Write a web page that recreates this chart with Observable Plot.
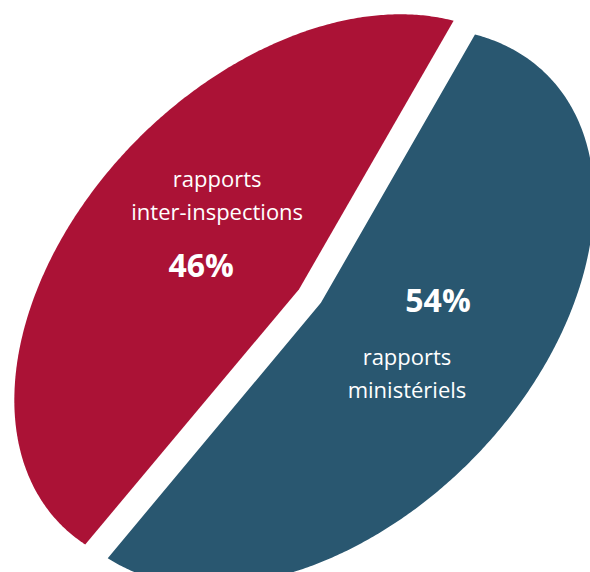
<!DOCTYPE html>
<html>
<head>
<meta charset="utf-8">
<script src="https://cdn.jsdelivr.net/npm/d3@7"></script>
<script src="https://cdn.jsdelivr.net/npm/@observablehq/plot@0.6"></script>
<style>
  html, body { margin: 0; padding: 0; background: #fff; }
  #chart svg { display: block; }
</style>
</head>
<body>
<div id="chart"></div>
<script>
// ---- data ----
const categories = ["rapports inter-inspections", "rapports ministériels"];
const shares = [46, 54];
const percentLabels = ["46%", "54%"];
const nameLabels = ["rapports\ninter-inspections", "rapports\nministériels"];
const colors = ["#ab1236", "#295770"];

// ---- layout (tilted / exploded pie) ----
const W = 590, H = 572;
const ellipse = {cx: 304, cy: 299.5, a: 328, b: 219, angle: -45};
const pivot = [309.5, 295.5];   // where the pie centre appears
const startDeg = -22;
const explode = 0.058;
const explodeTilt = 6;          // degrees
const labelRadius = 0.39;

const rad = Math.PI / 180;
const e1 = [Math.cos(ellipse.angle * rad), Math.sin(ellipse.angle * rad)];
const e2 = [-e1[1], e1[0]];
const pv = [pivot[0] - ellipse.cx, pivot[1] - ellipse.cy];
const qx = (pv[0] * e1[0] + pv[1] * e1[1]) / ellipse.a;
const qy = (pv[0] * e2[0] + pv[1] * e2[1]) / ellipse.b;
const r = Math.hypot(qx, qy);
const psi = Math.atan2(qy, qx);

function M(x, y) {
  const c = Math.cos(psi), s = Math.sin(psi);
  const x1 = c * x + s * y, y1 = -s * x + c * y;
  const den = 1 + r * x1;
  const kx = (x1 + r) / den, ky = y1 * Math.sqrt(1 - r * r) / den;
  const x2 = c * kx - s * ky, y2 = s * kx + c * ky;
  return [
    ellipse.cx + ellipse.a * x2 * e1[0] + ellipse.b * y2 * e2[0],
    ellipse.cy + ellipse.a * x2 * e1[1] + ellipse.b * y2 * e2[1]
  ];
}

const projection = d3.geoTransform({
  point(x, y) { const p = M(x, y); this.stream.point(p[0], p[1]); }
});

let cum = 0;
const slices = categories.map((cat, i) => {
  const a0 = startDeg - cum * 3.6;
  cum += shares[i];
  const a1 = startDeg - cum * 3.6;
  const mid = (a0 + a1) / 2 * rad;
  const em = mid + explodeTilt * rad;
  const ox = explode * Math.cos(em), oy = explode * Math.sin(em);
  const ring = [[ox, oy]];
  const n = Math.ceil(Math.abs(a1 - a0) / 0.5);
  for (let k = 0; k <= n; k++) {
    const t = (a0 + (a1 - a0) * k / n) * rad;
    ring.push([ox + Math.cos(t), oy + Math.sin(t)]);
  }
  ring.push([ox, oy]);
  return {
    type: "Feature",
    properties: {
      category: cat, share: shares[i],
      lx: ox + labelRadius * Math.cos(mid),
      ly: oy + labelRadius * Math.sin(mid),
      pct: percentLabels[i], name: nameLabels[i]
    },
    geometry: {type: "Polygon", coordinates: [ring]}
  };
});
const labels = slices.map(f => f.properties);

const font = "'Open Sans', sans-serif";
const nameOffsets = [[0, -34], [5, 60]];
const pctOffsets = [[-16, 23], [36, -26]];

const textMarks = [];
labels.forEach((d, i) => {
  textMarks.push(Plot.text([d], {
    x: "lx", y: "ly", text: "name", fill: "white",
    fontFamily: font, fontSize: 22, lineHeight: 1.5,
    textAnchor: "middle", lineAnchor: "bottom",
    dx: nameOffsets[i][0], dy: nameOffsets[i][1]
  }));
  textMarks.push(Plot.text([d], {
    x: "lx", y: "ly", text: "pct", fill: "white",
    fontFamily: font, fontSize: 32, fontWeight: 700,
    textAnchor: "middle", lineAnchor: "bottom",
    dx: pctOffsets[i][0], dy: pctOffsets[i][1]
  }));
});

const chart = Plot.plot({
  width: W,
  height: H,
  margin: 0,
  projection,
  color: {domain: categories, range: colors},
  marks: [
    Plot.geo(slices, {fill: d => d.properties.category}),
    ...textMarks
  ]
});
document.getElementById("chart").appendChild(chart);
</script>
</body>
</html>
